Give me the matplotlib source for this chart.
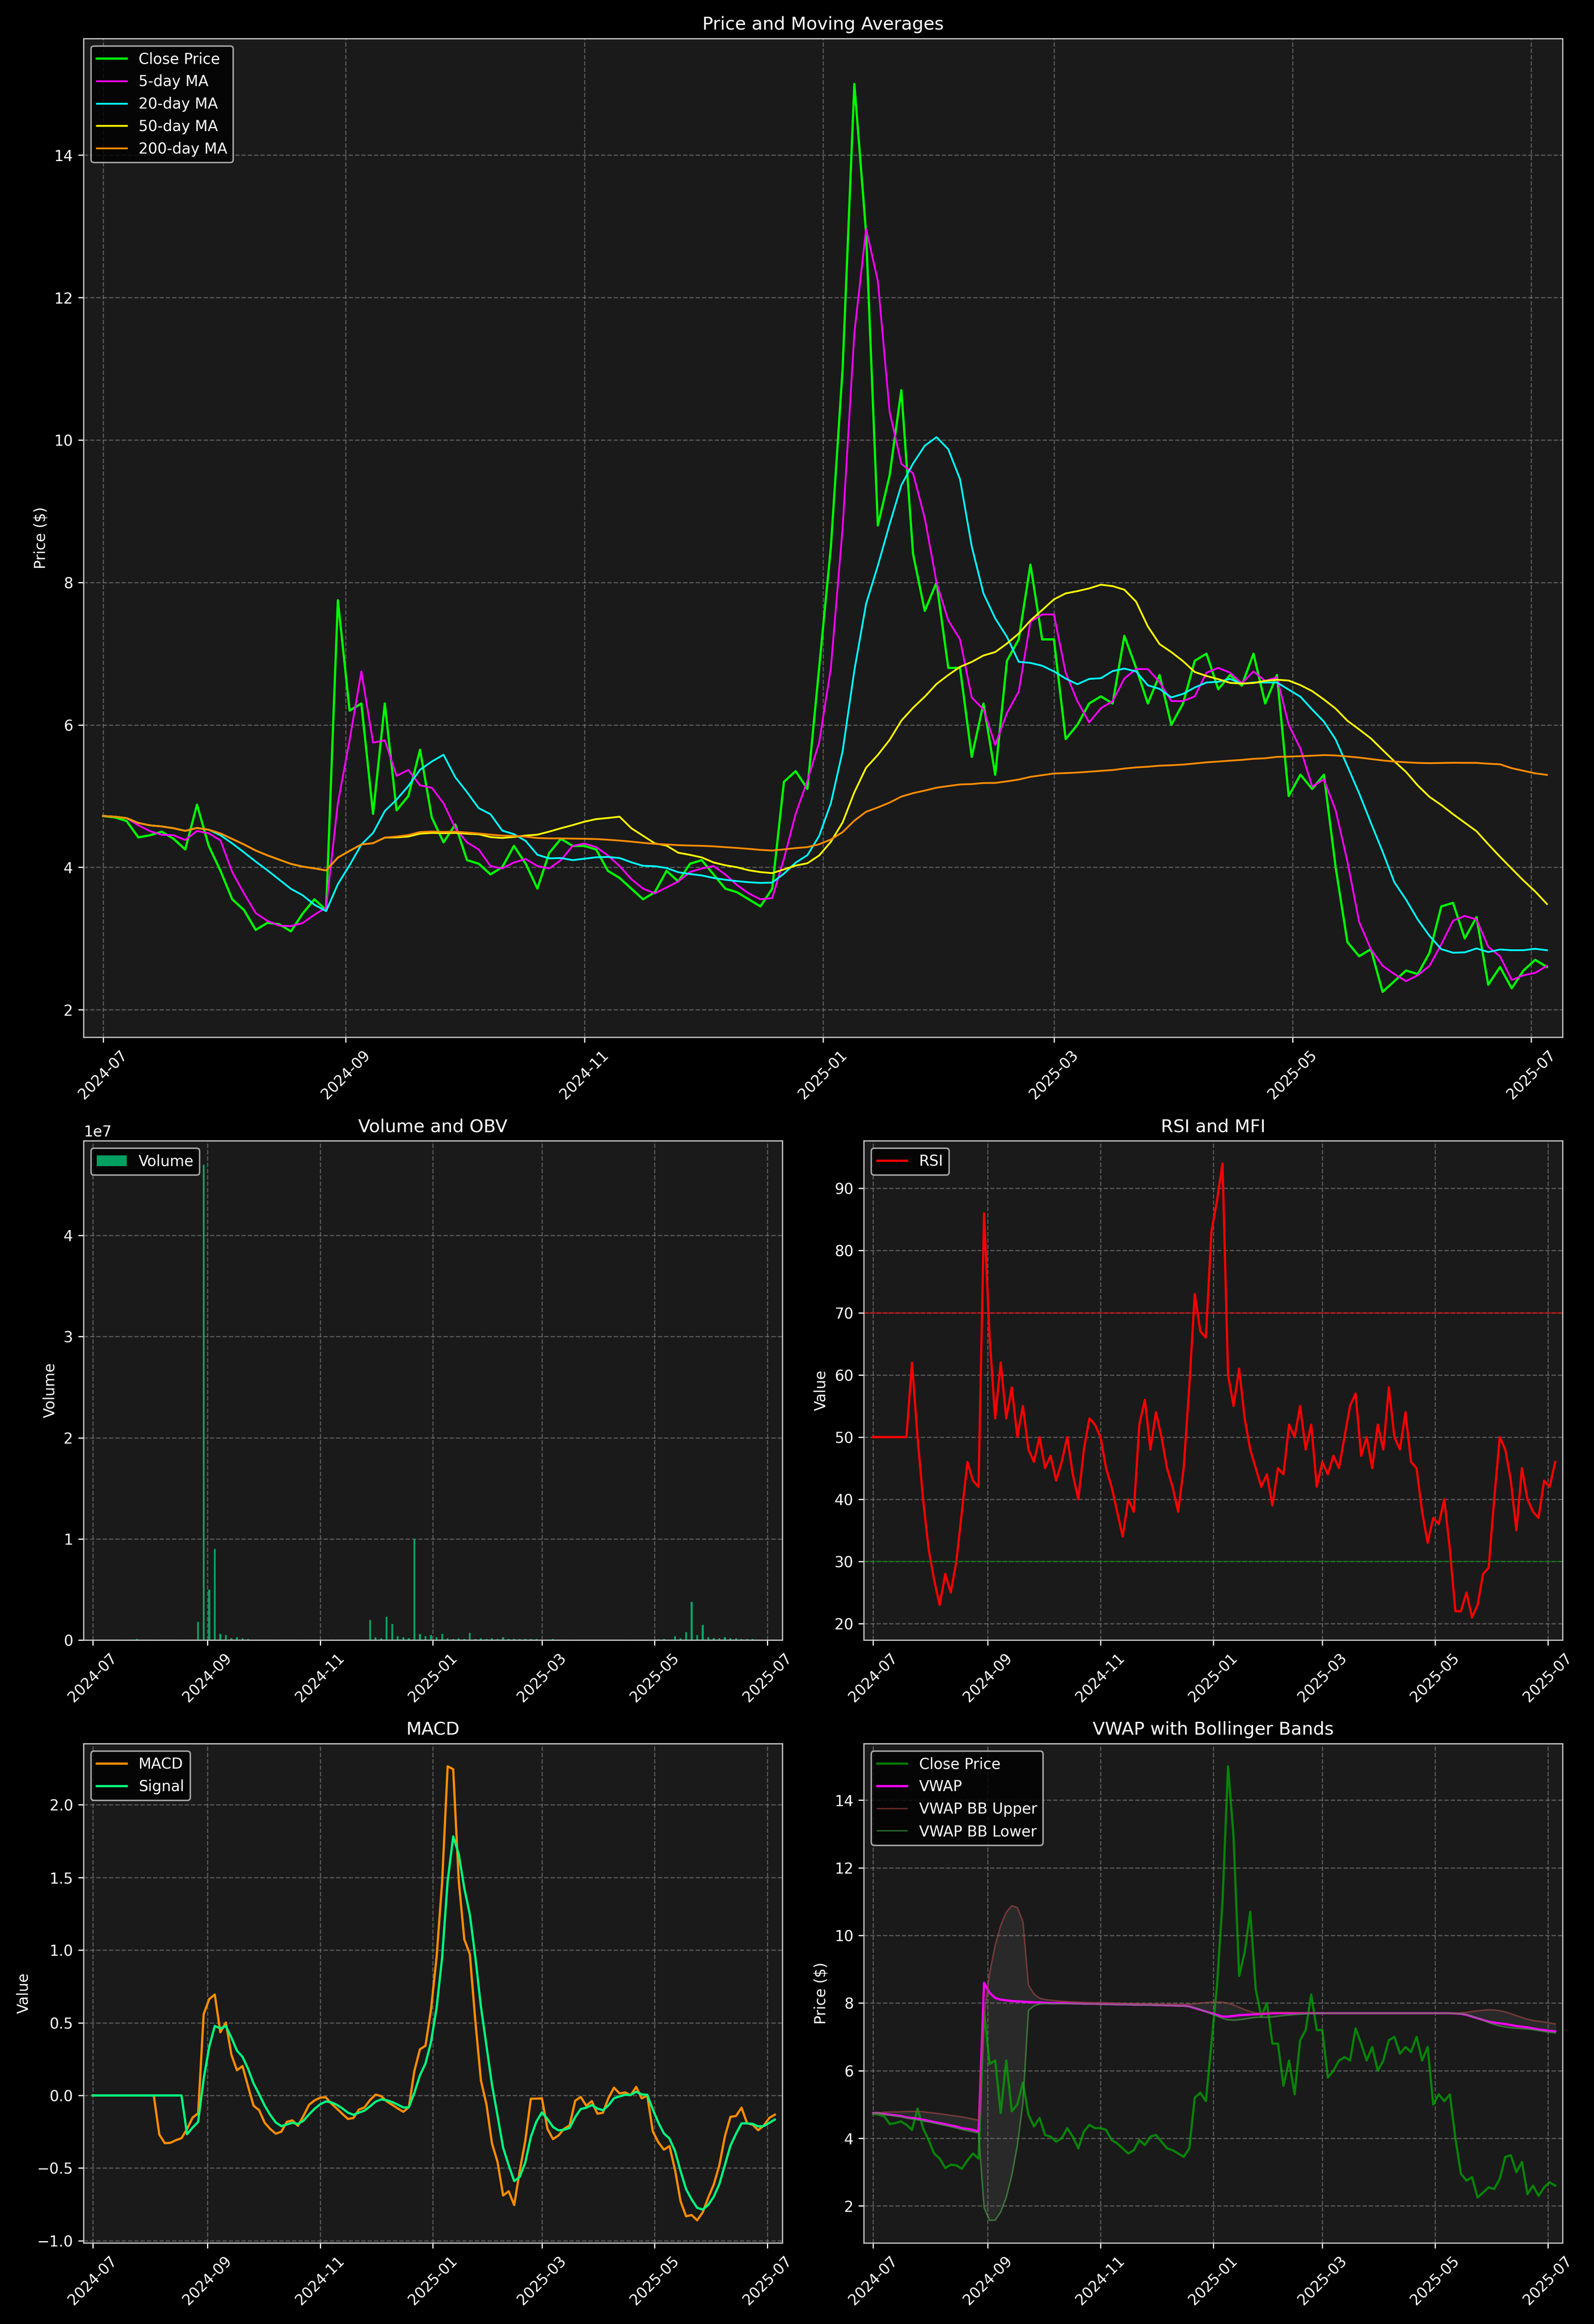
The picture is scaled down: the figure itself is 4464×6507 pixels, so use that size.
import numpy as np
import pandas as pd
import matplotlib
matplotlib.use("Agg")
import matplotlib.pyplot as plt
import matplotlib.dates as mdates

dates = pd.date_range("2024-07-01", periods=124, freq="3D")

close = [4.72,4.70,4.65,4.42,4.45,4.50,4.40,4.25,4.88,4.30,3.95,3.55,3.40,3.12,3.22,3.20,3.10,3.35,3.55,3.40,
         7.75,6.20,6.30,4.75,6.30,4.80,5.00,5.65,4.70,4.35,4.60,4.10,4.05,3.90,4.00,4.30,4.05,3.70,4.20,4.40,
         4.30,4.30,4.25,3.95,3.85,3.70,3.55,3.65,3.95,3.80,4.05,4.10,3.90,3.70,3.65,3.55,3.45,3.70,5.20,5.35,
         5.10,6.80,8.50,11.0,15.0,12.9,8.80,9.50,10.70,8.40,7.60,8.00,6.80,6.80,5.55,6.30,5.30,6.90,7.20,8.25,
         7.20,7.20,5.80,6.00,6.30,6.40,6.30,7.25,6.80,6.30,6.70,6.00,6.30,6.90,7.00,6.50,6.70,6.55,7.00,6.30,
         6.70,5.00,5.30,5.10,5.30,4.00,2.95,2.75,2.85,2.25,2.40,2.55,2.50,2.80,3.45,3.50,3.00,3.30,2.35,2.60,
         2.30,2.55,2.70,2.60]

volume = [2e4,2e4,3e4,2e4,2e4,3e4,2e4,5e4,1e5,3e4,2e4,2e4,3e4,2e4,2e4,2e4,3e4,2e4,5e4,1.8e6,
          4.7e7,5e6,9e6,6e5,5e5,2e5,3e5,2e5,1e5,5e4,5e4,4e4,3e4,3e4,2e4,5e4,3e4,2e4,3e4,2e4,
          2e4,2e4,3e4,2e4,2e4,2e4,3e4,2e4,2e4,2e4,2e6,3e5,2e5,2.3e6,1.6e6,4e5,3e5,2e5,1e7,6e5,
          4e5,5e5,3e5,6e5,2e5,1e5,2e5,1e5,7e5,1e5,2e5,1e5,2e5,1e5,3e5,1e5,1e5,1e5,1e5,1e5,
          1e5,5e4,5e4,1e5,5e4,5e4,5e4,5e4,5e4,5e4,5e4,5e4,5e4,5e4,5e4,5e4,5e4,5e4,5e4,5e4,
          5e4,6e4,8e4,1e5,5e4,4e5,2e5,8e5,3.8e6,5e5,1.5e6,3e5,2e5,2e5,3e5,2e5,2e5,1e5,1e5,1e5,
          5e4,5e4,5e4,5e4]

rsi = [50,50,50,50,50,50,50,62,50,40,32,27,23,28,25,30,38,46,43,42,
       86,66,53,62,53,58,50,55,48,46,50,45,47,43,46,50,44,40,48,53,
       52,50,45,42,38,34,40,38,52,56,48,54,50,45,42,38,45,58,73,67,
       66,83,88,94,60,55,61,53,48,45,42,44,39,45,44,52,50,55,48,52,
       42,46,44,47,45,50,55,57,47,50,45,52,48,58,50,48,54,46,45,38,
       33,37,36,40,32,22,22,25,21,23,28,29,40,50,48,43,35,45,40,38,
       37,43,42,46]

vwap = [4.75,4.75,4.72,4.70,4.68,4.66,4.62,4.60,4.58,4.55,4.52,4.48,4.45,4.42,4.38,4.35,4.30,4.28,4.25,4.20,
        8.60,8.30,8.15,8.10,8.08,8.06,8.05,8.04,8.03,8.02,8.02,8.01,8.00,8.00,8.00,8.00,7.99,7.99,7.98,7.98,
        7.98,7.97,7.97,7.97,7.96,7.96,7.96,7.95,7.95,7.95,7.95,7.94,7.94,7.93,7.93,7.92,7.92,7.90,7.85,7.80,
        7.75,7.70,7.65,7.60,7.60,7.62,7.64,7.65,7.66,7.67,7.68,7.69,7.70,7.70,7.70,7.70,7.70,7.70,7.70,7.70,
        7.70,7.70,7.70,7.70,7.70,7.70,7.70,7.70,7.70,7.70,7.70,7.70,7.70,7.70,7.70,7.70,7.70,7.70,7.70,7.70,
        7.70,7.70,7.70,7.70,7.70,7.69,7.68,7.65,7.60,7.55,7.50,7.45,7.42,7.40,7.38,7.35,7.32,7.30,7.28,7.25,
        7.22,7.20,7.18,7.16]

s = pd.Series(close, index=dates)
ma5 = s.rolling(3, min_periods=1).mean()
ma20 = s.rolling(10, min_periods=1).mean()
ma50 = s.rolling(25, min_periods=1).mean()
ma200 = s.rolling(100, min_periods=1).mean()

ema_f = s.ewm(span=5, adjust=False).mean()
ema_s = s.ewm(span=10, adjust=False).mean()
macd = ema_f - ema_s
sig = macd.ewm(span=4, adjust=False).mean()
macd = macd.copy(); sig = sig.copy()
macd.iloc[:12] = 0; sig.iloc[:17] = 0

vw = pd.Series(vwap, index=dates)
vmid = vw.rolling(9, min_periods=1).mean()
vstd = vw.rolling(9, min_periods=1).std().fillna(0)
bb_up = vmid + 2 * vstd
bb_lo = vmid - 2 * vstd

plt.rcParams.update({"text.color": "white", "axes.labelcolor": "white",
                     "xtick.color": "white", "ytick.color": "white",
                     "axes.edgecolor": "#cccccc", "font.size": 10})

fig = plt.figure(figsize=(14.88, 21.69), dpi=300, facecolor="black")
gs = fig.add_gridspec(3, 2, height_ratios=[2, 1, 1])
ax1 = fig.add_subplot(gs[0, :])
ax2 = fig.add_subplot(gs[1, 0])
ax3 = fig.add_subplot(gs[1, 1])
ax4 = fig.add_subplot(gs[2, 0])
ax5 = fig.add_subplot(gs[2, 1])

def style(ax, title, ylabel):
    ax.set_facecolor("#1a1a1a")
    ax.set_title(title, color="white", fontsize=12)
    ax.set_ylabel(ylabel)
    ax.grid(True, linestyle="--", color="gray", alpha=0.6)
    ax.xaxis.set_major_locator(mdates.MonthLocator(bymonth=[1, 3, 5, 7, 9, 11]))
    ax.xaxis.set_major_formatter(mdates.DateFormatter("%Y-%m"))
    for lb in ax.get_xticklabels():
        lb.set_rotation(45)
    ax.set_xlim(pd.Timestamp("2024-06-26"), pd.Timestamp("2025-07-09"))

def leg(ax):
    l = ax.legend(loc="upper left", facecolor="black", edgecolor="#cccccc")
    for t in l.get_texts():
        t.set_color("white")

ax1.plot(dates, close, color="#00ff00", lw=1.5, label="Close Price")
ax1.plot(dates, ma5, color="magenta", lw=1.2, label="5-day MA")
ax1.plot(dates, ma20, color="cyan", lw=1.2, label="20-day MA")
ax1.plot(dates, ma50, color="yellow", lw=1.2, label="50-day MA")
ax1.plot(dates, ma200, color="darkorange", lw=1.2, label="200-day MA")
style(ax1, "Price and Moving Averages", "Price ($)")
leg(ax1)

ax2.bar(dates, volume, width=1.0, color="#00c878", alpha=0.8, label="Volume")
style(ax2, "Volume and OBV", "Volume")
leg(ax2)

ax3.plot(dates, rsi, color="red", lw=1.5, label="RSI")
ax3.axhline(70, color="red", alpha=0.5, lw=1)
ax3.axhline(30, color="green", alpha=0.5, lw=1)
style(ax3, "RSI and MFI", "Value")
leg(ax3)

ax4.plot(dates, macd, color="darkorange", lw=1.5, label="MACD")
ax4.plot(dates, sig, color="#00ff7f", lw=1.5, label="Signal")
style(ax4, "MACD", "Value")
leg(ax4)

ax5.plot(dates, close, color="#00b000", alpha=0.7, lw=1.5, label="Close Price")
ax5.plot(dates, vwap, color="magenta", lw=1.5, label="VWAP")
ax5.plot(dates, bb_up, color="#a04040", alpha=0.6, lw=1, label="VWAP BB Upper")
ax5.plot(dates, bb_lo, color="#40a040", alpha=0.6, lw=1, label="VWAP BB Lower")
ax5.fill_between(dates, bb_lo, bb_up, color="gray", alpha=0.15)
style(ax5, "VWAP with Bollinger Bands", "Price ($)")
leg(ax5)

fig.tight_layout()
fig.savefig("out.png", dpi=300, facecolor="black")
